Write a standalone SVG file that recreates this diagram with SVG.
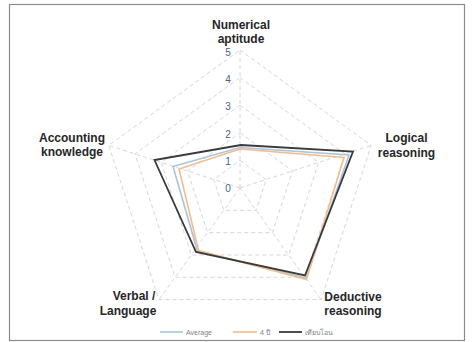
<svg xmlns="http://www.w3.org/2000/svg" width="472" height="342" viewBox="0 0 472 342">
<style>
.grid{fill:none;stroke:#d6d6d6;stroke-width:1;stroke-dasharray:4 3}
.cat{font-family:"Liberation Sans",Arial,sans-serif;font-size:12px;font-weight:bold;fill:#262626;text-anchor:middle}
.tick{font-family:"Liberation Sans",Arial,sans-serif;font-size:10px;fill:#4a6290;text-anchor:middle}
.leg{font-family:"Liberation Sans","Noto Sans",sans-serif;font-size:7px;fill:#7f7f7f}
.s{fill:none;stroke-linejoin:miter}
</style>
<rect x="0" y="0" width="472" height="342" fill="#ffffff"/>
<rect x="9.5" y="4.5" width="455" height="336" fill="none" stroke="#8c8c8c" stroke-width="1.2"/>
<g id="grid">
<polygon class="grid" points="240,160.4 266.2,179.5 256.2,210.3 223.8,210.3 213.8,179.5"/>
<polygon class="grid" points="240,132.8 292.5,170.9 272.4,232.7 207.6,232.7 187.5,170.9"/>
<polygon class="grid" points="240,105.2 318.7,162.4 288.7,255 191.3,255 161.3,162.4"/>
<polygon class="grid" points="240,77.6 345,153.9 304.9,277.3 175.1,277.3 135,153.9"/>
<polygon class="grid" points="240,50 371.2,145.4 321.1,299.6 158.9,299.6 108.8,145.4"/>
<path class="grid" d="M240,188L240,50M240,188L371.2,145.4M240,188L321.1,299.6M240,188L158.9,299.6M240,188L108.8,145.4"/>
</g>
<g id="ticks">
<text class="tick" x="228" y="191.5">0</text>
<text class="tick" x="228" y="164.5">1</text>
<text class="tick" x="228" y="137.5">2</text>
<text class="tick" x="228" y="110">3</text>
<text class="tick" x="228" y="83">4</text>
<text class="tick" x="228" y="55.5">5</text>
</g>
<g id="connectors">
<polygon id="series-average" class="s" stroke="#a9c4dc" stroke-width="1.6" points="240,147.5 349,155 306,278 197.5,251 173,166.5"/>
<polygon id="series-4y" class="s" stroke="#f2bd8e" stroke-width="1.6" points="240,149 344,157.5 306.5,279.5 198.5,250.5 179,169"/>
<polygon id="series-transfer" class="s" stroke="#3a3a3a" stroke-width="1.8" points="241,145 353,151.5 305,275.5 196,252 154.5,160"/>
</g>
<g id="node-numerical">
<text class="cat" x="241" y="29">Numerical</text>
<text class="cat" x="241" y="43">aptitude</text>
</g>
<g id="node-logical">
<text class="cat" x="406.5" y="142">Logical</text>
<text class="cat" x="406.5" y="157">reasoning</text>
</g>
<g id="node-deductive">
<text class="cat" x="353" y="301">Deductive</text>
<text class="cat" x="353" y="315">reasoning</text>
</g>
<g id="node-verbal">
<text class="cat" x="134" y="300">Verbal /</text>
<text class="cat" x="128" y="315">Language</text>
</g>
<g id="node-accounting">
<text class="cat" x="72" y="142">Accounting</text>
<text class="cat" x="72" y="156">knowledge</text>
</g>
<g id="legend">
<line x1="160" y1="332" x2="183" y2="332" stroke="#a9c4dc" stroke-width="1.6"/>
<text class="leg" x="186" y="334.5">Average</text>
<line x1="233" y1="332" x2="257" y2="332" stroke="#f2bd8e" stroke-width="1.6"/>
<text class="leg" x="260" y="334.5">4 ปี</text>
<line x1="279" y1="332" x2="302" y2="332" stroke="#3a3a3a" stroke-width="1.8"/>
<text class="leg" x="305" y="334.5">เทียบโอน</text>
</g>
</svg>
